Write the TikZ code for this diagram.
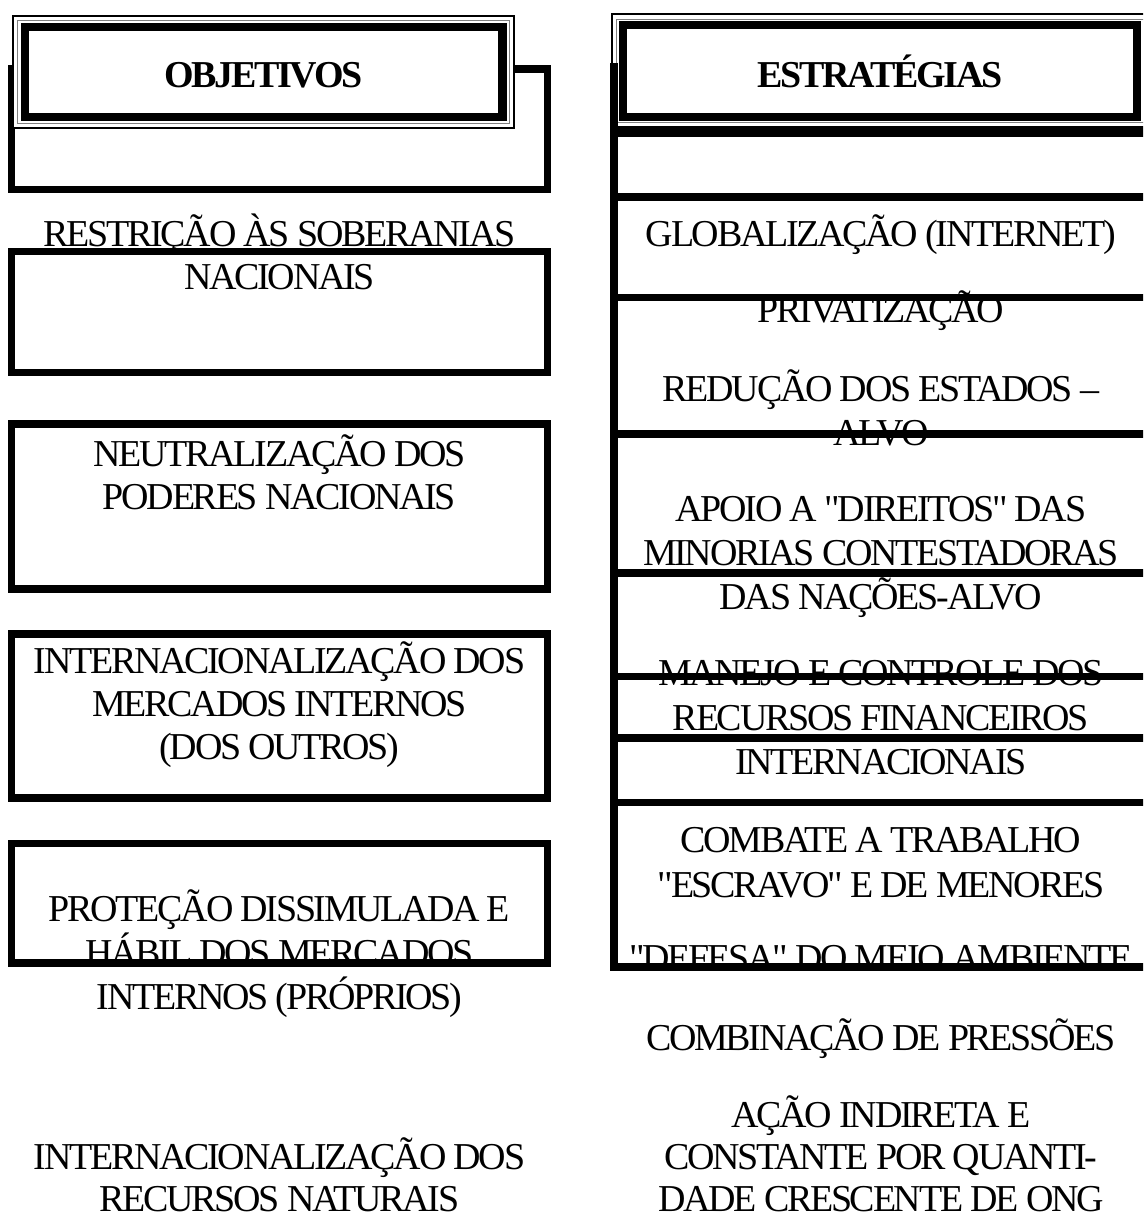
\documentclass[tikz,border=0pt]{standalone}
\usepackage{fontspec}
\setmainfont[LetterSpace=-6,Ligatures=TeXOff]{Liberation Serif}

\begin{document}
\begin{tikzpicture}[x=1pt,y=-1pt,
    txt/.style={font=\fontsize{38}{42}\selectfont,inner sep=0pt,anchor=base},
    hdr/.style={txt,font=\fontsize{38}{42}\selectfont\bfseries},
    bx/.style={line width=7.5pt}]
    \useasboundingbox (0,0) rectangle (1143,1220);
    \clip (0,0) rectangle (1143,1220);

    % left column
    \draw[bx,fill=white] (11.5,69) rectangle (547.3,189.5);
    \draw[line width=2pt,fill=white] (13,16) rectangle (514,128);
    \draw[line width=1pt,gray] (17.5,20.5) rectangle (509.5,123.5);
    \draw[line width=8.5pt] (25,27) rectangle (502.5,117);
    \node[hdr] (obj) at (263.5,87.3) {OBJETIVOS};

    \draw[bx] (11.5,251.5) rectangle (547.3,372.5);
    \draw[bx] (11.5,424) rectangle (547.3,589);
    \draw[bx] (11.5,634) rectangle (547.3,798);
    \draw[bx] (11.5,843.3) rectangle (547.3,963);

    \node[txt] (o1a) at (279.5,246.7) {RESTRIÇÃO ÀS SOBERANIAS};
    \node[txt] (o1b) at (279.5,289.3) {NACIONAIS};
    \node[txt] (o2a) at (279.5,466) {NEUTRALIZAÇÃO DOS};
    \node[txt] (o2b) at (279.5,509.3) {PODERES NACIONAIS};
    \node[txt] (o3a) at (279.5,673) {INTERNACIONALIZAÇÃO DOS};
    \node[txt] (o3b) at (279.5,716.3) {MERCADOS INTERNOS};
    \node[txt] (o3c) at (279.5,759.6) {(DOS OUTROS)};
    \node[txt] (o4a) at (279.5,921.7) {PROTEÇÃO DISSIMULADA E};
    \node[txt] (o4b) at (279.5,965.5) {HÁBIL DOS MERCADOS};
    \node[txt] (o4c) at (279.5,1009.3) {INTERNOS (PRÓPRIOS)};
    \node[txt] (o5a) at (279.5,1169) {INTERNACIONALIZAÇÃO DOS};
    \node[txt] (o5b) at (279.5,1211) {RECURSOS NATURAIS};

    % right column
    \draw[line width=2pt,fill=white] (611.7,14.5) rectangle (1150,127);
    \draw[line width=1pt,gray] (616,19.5) rectangle (1146,123);
    \draw[line width=7.5pt] (623,25) rectangle (1137,117);
    \node[hdr] (estr) at (880,87.3) {ESTRATÉGIAS};

    \draw[bx] (614,63) -- (614,971);
    \draw[line width=9.5pt] (610.25,132.5) -- (1150,132.5);
    \foreach \y in {197,297.5,434,573,676.5,738,802.5,967}
        \draw[bx] (610.25,\y) -- (1150,\y);

    \node[txt] (e1) at (881,246.7) {GLOBALIZAÇÃO (INTERNET)};
    \node[txt] (e2) at (881,322.7) {PRIVATIZAÇÃO};
    \node[txt] (e3a) at (881,401.7) {REDUÇÃO DOS ESTADOS –};
    \node[txt] (e3b) at (881,445) {ALVO};
    \node[txt] (e4a) at (881,521.7) {APOIO A "DIREITOS" DAS};
    \node[txt] (e4b) at (881,565.5) {MINORIAS CONTESTADORAS};
    \node[txt] (e4c) at (881,609) {DAS NAÇÕES-ALVO};
    \node[txt] (e5a) at (881,685.5) {MANEJO E CONTROLE DOS};
    \node[txt] (e5b) at (881,730) {RECURSOS FINANCEIROS};
    \node[txt] (e5c) at (881,774.3) {INTERNACIONAIS};
    \node[txt] (e6a) at (881,852.5) {COMBATE A TRABALHO};
    \node[txt] (e6b) at (881,897.2) {"ESCRAVO" E DE MENORES};
    \node[txt] (e7) at (881,970.5) {"DEFESA" DO MEIO AMBIENTE};
    \node[txt] (e8) at (881,1050) {COMBINAÇÃO DE PRESSÕES};
    \node[txt] (e9a) at (881,1127.3) {AÇÃO INDIRETA E};
    \node[txt] (e9b) at (881,1169.5) {CONSTANTE POR QUANTI-};
    \node[txt] (e9c) at (881,1211.5) {DADE CRESCENTE DE ONG};
\end{tikzpicture}
\end{document}
